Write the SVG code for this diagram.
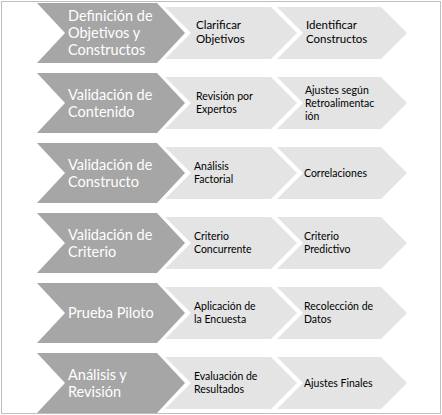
<svg xmlns="http://www.w3.org/2000/svg" width="442" height="415" viewBox="0 0 442 415">
<style>
.frame{fill:#ffffff;stroke:#bfbfbf;stroke-width:1}
.dk{fill:#a6a6a6}
.lt{fill:#e4e4e4}
.dt{font-family:Lato,"Liberation Sans",sans-serif;font-size:14.5px;fill:#ffffff}
.lx{font-family:Lato,"Liberation Sans",sans-serif;font-size:11.5px;fill:#000000}
.sm{font-size:10.5px}
</style>
<defs>
<path id="dchev" d="M37,-30 L157,-30 L185,0 L157,30 L37,30 L65,0 Z"/>
<path id="l1" d="M165,-26 L271,-26 L297,0 L271,26 L165,26 L191,0 Z"/>
<path id="l2" d="M277,-26 L381,-26 L407,0 L381,26 L277,26 L303,0 Z"/>
</defs>
<rect class="frame" x="1.5" y="1.5" width="439" height="412"/>
<g id="connectors"/>

<g id="row1" transform="translate(0,33)">
<g id="n1"><use href="#dchev" class="dk"/>
<text class="dt"><tspan x="68" y="-12">Definición de</tspan><tspan x="68" y="5">Objetivos y</tspan><tspan x="68" y="22">Constructos</tspan></text></g>
<g id="n1a"><use href="#l1" class="lt"/>
<text class="lx"><tspan x="196" y="-4">Clarificar</tspan><tspan x="196" y="10">Objetivos</tspan></text></g>
<g id="n1b"><use href="#l2" class="lt"/>
<text class="lx"><tspan x="306" y="-4">Identificar</tspan><tspan x="306" y="10">Constructos</tspan></text></g>
</g>

<g id="row2" transform="translate(0,103)">
<g id="n2"><use href="#dchev" class="dk"/>
<text class="dt"><tspan x="68" y="-3.5">Validación de</tspan><tspan x="68" y="13.5">Contenido</tspan></text></g>
<g id="n2a"><use href="#l1" class="lt"/>
<text class="lx sm"><tspan x="196" y="-3">Revisión por</tspan><tspan x="196" y="10">Expertos</tspan></text></g>
<g id="n2b"><use href="#l2" class="lt"/>
<text class="lx sm"><tspan x="305" y="-9.5">Ajustes según</tspan><tspan x="305" y="3.5">Retroalimentac</tspan><tspan x="305" y="16.5">ión</tspan></text></g>
</g>

<g id="row3" transform="translate(0,173)">
<g id="n3"><use href="#dchev" class="dk"/>
<text class="dt"><tspan x="68" y="-3.5">Validación de</tspan><tspan x="68" y="13.5">Constructo</tspan></text></g>
<g id="n3a"><use href="#l1" class="lt"/>
<text class="lx sm"><tspan x="194" y="-3">Análisis</tspan><tspan x="194" y="10">Factorial</tspan></text></g>
<g id="n3b"><use href="#l2" class="lt"/>
<text class="lx sm"><tspan x="304" y="3.5">Correlaciones</tspan></text></g>
</g>

<g id="row4" transform="translate(0,243)">
<g id="n4"><use href="#dchev" class="dk"/>
<text class="dt"><tspan x="68" y="-3.5">Validación de</tspan><tspan x="68" y="13.5">Criterio</tspan></text></g>
<g id="n4a"><use href="#l1" class="lt"/>
<text class="lx sm"><tspan x="194" y="-3">Criterio</tspan><tspan x="194" y="10">Concurrente</tspan></text></g>
<g id="n4b"><use href="#l2" class="lt"/>
<text class="lx sm"><tspan x="304" y="-3">Criterio</tspan><tspan x="304" y="10">Predictivo</tspan></text></g>
</g>

<g id="row5" transform="translate(0,313)">
<g id="n5"><use href="#dchev" class="dk"/>
<text class="dt"><tspan x="68" y="5">Prueba Piloto</tspan></text></g>
<g id="n5a"><use href="#l1" class="lt"/>
<text class="lx sm"><tspan x="194" y="-3">Aplicación de</tspan><tspan x="194" y="10">la Encuesta</tspan></text></g>
<g id="n5b"><use href="#l2" class="lt"/>
<text class="lx sm"><tspan x="304" y="-3">Recolección de</tspan><tspan x="304" y="10">Datos</tspan></text></g>
</g>

<g id="row6" transform="translate(0,383)">
<g id="n6"><use href="#dchev" class="dk"/>
<text class="dt"><tspan x="68" y="-3.5">Análisis y</tspan><tspan x="68" y="13.5">Revisión</tspan></text></g>
<g id="n6a"><use href="#l1" class="lt"/>
<text class="lx sm"><tspan x="194" y="-3">Evaluación de</tspan><tspan x="194" y="10">Resultados</tspan></text></g>
<g id="n6b"><use href="#l2" class="lt"/>
<text class="lx sm"><tspan x="304" y="3.5">Ajustes Finales</tspan></text></g>
</g>
</svg>
